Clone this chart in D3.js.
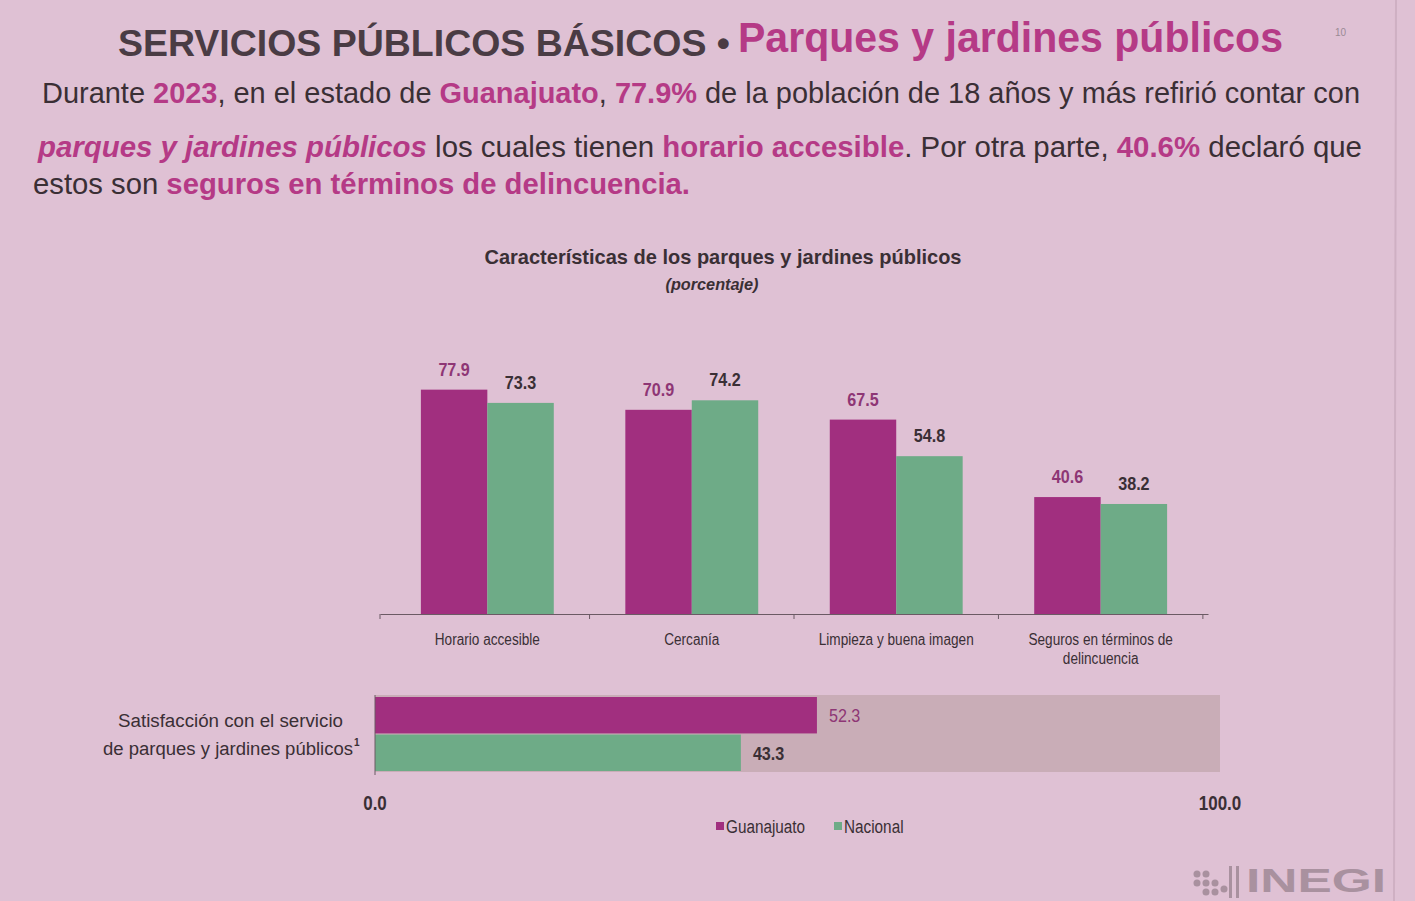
<!DOCTYPE html>
<html><head><meta charset="utf-8">
<script src="https://cdn.jsdelivr.net/npm/d3@7"></script>
<style>
html,body{margin:0;padding:0;background:#dfc1d4;}
svg{display:block;}
text{font-family:"Liberation Sans Narrow","Arial Narrow","Liberation Sans",Arial,sans-serif;}
</style></head>
<body>
<svg id="c" width="1415" height="901"></svg>
<script>
const categories = ["Horario accesible", "Cercanía", "Limpieza y buena imagen", "Seguros en términos de|delincuencia"];
const guanajuato = [77.9, 70.9, 67.5, 40.6];
const nacional = [73.3, 74.2, 54.8, 38.2];
const series = ["Guanajuato", "Nacional"];
const satisfaccion = [52.3, 43.3];
const satTicks = ["0.0", "100.0"];

const C = {bg:"#dfc1d4", mag:"#a12f7f", green:"#6eab87", gray:"#c9adb7", dark:"#3a2f35", magText:"#b53a86", magLabel:"#8e3675"};
const svg = d3.select("#c");

function condense(sel, k){
  sel.each(function(){
    const L=this.getComputedTextLength();
    d3.select(this).attr("textLength",L*k).attr("lengthAdjust","spacingAndGlyphs");
  });
}

svg.append("rect").attr("width",1415).attr("height",901).attr("fill",C.bg);
svg.append("line").attr("x1",1396).attr("x2",1394).attr("y1",0).attr("y2",901).attr("stroke","#cfb0c3").attr("stroke-width",2);

// Header
svg.append("text").attr("x",118).attr("y",56).attr("font-weight","bold").attr("font-size",37).attr("fill","#4a3c44")
  .attr("textLength",612).attr("lengthAdjust","spacingAndGlyphs").text("SERVICIOS PÚBLICOS BÁSICOS •");
svg.append("text").attr("x",738).attr("y",52).attr("font-weight","bold").attr("font-size",42).attr("fill",C.magText)
  .attr("textLength",545).attr("lengthAdjust","spacingAndGlyphs").text("Parques y jardines públicos");
svg.append("text").attr("x",1335).attr("y",36).attr("font-size",10).attr("fill","#9a8a94").text("10");

// Paragraph
function para(y, x, len, parts){
  const t = svg.append("text").attr("x",x).attr("y",y).attr("font-size",29).attr("fill",C.dark)
    .attr("textLength",len).attr("lengthAdjust","spacingAndGlyphs");
  parts.forEach(p=>{
    const s=t.append("tspan").text(p[0]);
    if(p[1]){s.attr("fill",C.magText).attr("font-weight","bold");}
    if(p[2]){s.attr("font-style","italic");}
  });
}
para(103, 42, 1318, [["Durante "],["2023",1],[", en el estado de "],["Guanajuato",1],[", "],["77.9%",1],[" de la población de 18 años y más refirió contar con"]]);
para(157, 38, 1324, [["parques y jardines públicos",1,1],[" los cuales tienen "],["horario accesible",1],[". Por otra parte, "],["40.6%",1],[" declaró que"]]);
para(194, 33, 657, [["estos son "],["seguros en términos de delincuencia.",1]]);

// Chart title
svg.append("text").attr("x",723).attr("y",264).attr("text-anchor","middle").attr("font-size",21).attr("font-weight","bold").attr("fill",C.dark)
  .attr("textLength",477).attr("lengthAdjust","spacingAndGlyphs").text("Características de los parques y jardines públicos");
svg.append("text").attr("x",712).attr("y",290).attr("text-anchor","middle").attr("font-size",16).attr("font-weight","bold").attr("font-style","italic").attr("fill",C.dark)
  .attr("textLength",93).attr("lengthAdjust","spacingAndGlyphs").text("(porcentaje)");

// Column chart
const x0 = d3.scaleBand().domain(categories).range([380,1208]).paddingInner(0.35).paddingOuter(0.2);
const x1 = d3.scaleBand().domain(series).range([0,x0.bandwidth()]);
const y = d3.scaleLinear().domain([0,100]).range([614,326]);
const data = categories.map((c,i)=>({c, vals:[guanajuato[i], nacional[i]]}));
const g = svg.append("g");
const grp = g.selectAll("g.grp").data(data).join("g").attr("transform",d=>`translate(${x0(d.c)},0)`);
grp.selectAll("rect").data(d=>d.vals.map((v,j)=>({v,s:series[j]}))).join("rect")
  .attr("x",d=>x1(d.s)).attr("width",x1.bandwidth()).attr("y",d=>y(d.v)).attr("height",d=>y(0)-y(d.v))
  .attr("fill",d=>d.s==="Guanajuato"?C.mag:C.green);
const vl = grp.selectAll("text.v").data(d=>d.vals.map((v,j)=>({v,s:series[j]}))).join("text").attr("class","v")
  .attr("x",d=>x1(d.s)+x1.bandwidth()/2).attr("y",d=>y(d.v)-14)
  .attr("text-anchor","middle").attr("font-size",19).attr("font-weight","bold")
  .attr("fill",d=>d.s==="Guanajuato"?C.magLabel:C.dark).text(d=>d3.format(".1f")(d.v));
condense(vl,0.85);

// x axis
const xAxis = d3.axisBottom(x0).tickSize(0).tickFormat("");
const ax = svg.append("g").attr("transform",`translate(0,${y(0)})`).call(xAxis);
ax.select(".domain").attr("stroke","#6b5a64").attr("stroke-width",1.2);
const bounds = [380].concat(categories.map(c=>x0(c)+x0.bandwidth()+x0.step()*x0.paddingInner()/2));
ax.selectAll("line.sep").data(bounds).join("line").attr("class","sep").attr("x1",d=>d).attr("x2",d=>d).attr("y1",0).attr("y2",5).attr("stroke","#6b5a64");
categories.forEach(c=>{
  const lines=c.split("|");
  lines.forEach((l,k)=>{
    const t=svg.append("text").attr("text-anchor","middle").attr("font-size",16).attr("fill",C.dark)
      .attr("x",x0(c)+x0.bandwidth()/2).attr("y",645+k*19).text(l);
    condense(t,0.85);
  });
});

// Satisfaction horizontal bars
const xs = d3.scaleLinear().domain([0,100]).range([375,1220]);
const ys = d3.scaleBand().domain(series).range([697,771]).paddingInner(0.03);
svg.append("rect").attr("x",xs(0)).attr("y",695).attr("width",xs(100)-xs(0)).attr("height",77).attr("fill",C.gray);
svg.selectAll("rect.sat").data(satisfaccion.map((v,j)=>({v,s:series[j]}))).join("rect").attr("class","sat")
  .attr("x",xs(0)).attr("y",d=>ys(d.s)).attr("width",d=>xs(d.v)-xs(0)).attr("height",ys.bandwidth())
  .attr("fill",d=>d.s==="Guanajuato"?C.mag:C.green);
const sl = svg.selectAll("text.sat").data(satisfaccion.map((v,j)=>({v,s:series[j]}))).join("text").attr("class","sat")
  .attr("x",d=>xs(d.v)+12).attr("y",d=>ys(d.s)+ys.bandwidth()/2+7).attr("font-size",19)
  .attr("fill",d=>d.s==="Guanajuato"?C.magLabel:C.dark).attr("font-weight",d=>d.s==="Guanajuato"?"normal":"bold")
  .text(d=>d3.format(".1f")(d.v));
condense(sl,0.85);
svg.append("line").attr("x1",xs(0)).attr("x2",xs(0)).attr("y1",695).attr("y2",775).attr("stroke","#6b5a64");
svg.append("text").attr("x",343).attr("y",727).attr("text-anchor","end").attr("font-size",18).attr("fill",C.dark)
  .attr("textLength",225).attr("lengthAdjust","spacingAndGlyphs").text("Satisfacción con el servicio");
svg.append("text").attr("x",353).attr("y",755).attr("text-anchor","end").attr("font-size",18).attr("fill",C.dark)
  .attr("textLength",250).attr("lengthAdjust","spacingAndGlyphs").text("de parques y jardines públicos");
svg.append("text").attr("x",354).attr("y",746).attr("font-size",10).attr("font-weight","bold").attr("fill",C.dark).text("1");
const tl = svg.selectAll("text.st").data(satTicks).join("text").attr("class","st")
  .attr("x",(d,i)=>xs(i*100)).attr("y",810).attr("text-anchor","middle").attr("font-size",20).attr("font-weight","bold").attr("fill",C.dark).text(d=>d);
condense(tl,0.85);

// Legend
const leg = svg.append("g").attr("transform","translate(716,833)");
const legX=[0,118];
series.forEach((s,i)=>{
  leg.append("rect").attr("x",legX[i]).attr("y",-11).attr("width",8).attr("height",8).attr("fill",i?C.green:C.mag);
  const t=leg.append("text").attr("x",legX[i]+10).attr("y",0).attr("font-size",18).attr("fill",C.dark).text(s);
  condense(t,0.85);
});

// INEGI logo (faint)
const logo = svg.append("g").attr("opacity",0.55);
[[1197,874],[1206,874],[1197,883],[1206,883],[1215,883],[1206,892],[1215,892],[1224,889]].forEach(p=>logo.append("circle").attr("cx",p[0]).attr("cy",p[1]).attr("r",3.5).attr("fill","#7d6a74"));
logo.append("rect").attr("x",1229).attr("y",866).attr("width",3).attr("height",32).attr("fill","#7d6a74");
logo.append("rect").attr("x",1236).attr("y",866).attr("width",3).attr("height",32).attr("fill","#7d6a74");
logo.append("text").attr("x",1246).attr("y",892).attr("font-size",34).attr("font-weight","bold").attr("fill","#7d6a74")
  .attr("textLength",140).attr("lengthAdjust","spacingAndGlyphs").text("INEGI");
</script>
</body></html>
